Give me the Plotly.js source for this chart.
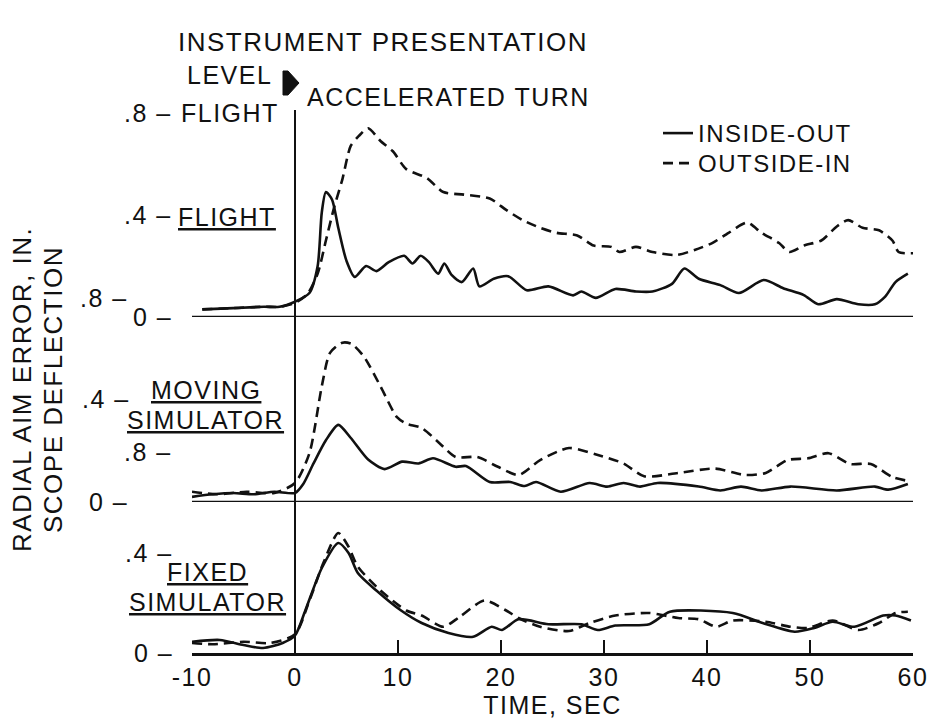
<!DOCTYPE html>
<html><head><meta charset="utf-8">
<script src="https://cdn.plot.ly/plotly-3.0.1.min.js"></script>
<style>
html,body{margin:0;padding:0;background:#fff;}
#chart{width:933px;height:728px;}
svg text{letter-spacing:1.5px;}
</style></head><body><div id="chart"></div>
<script>
// ---------------- DATA ----------------
const seriesNames = ['INSIDE-OUT', 'OUTSIDE-IN'];
const panelNames = ['FLIGHT', 'MOVING SIMULATOR', 'FIXED SIMULATOR'];

// Flight panel
const flightInsideT = [-9,-6,-3,-1.5,0,1.4,2.2,2.6,3.0,3.6,4.2,5.0,5.8,6.9,7.9,9.1,10.6,11.4,12.2,13.0,13.9,14.5,15.2,16.2,17.3,17.9,19.3,20.7,22.5,24.6,27.0,27.8,29.2,31.1,33.1,34.7,36.6,37.8,39.2,41.3,43.1,45.5,47.4,49.4,50.8,52.6,54.7,56.3,57.3,58.3,59.5];
const flightInsideV = [0.03,0.035,0.04,0.04,0.06,0.094,0.2,0.41,0.49,0.46,0.35,0.22,0.157,0.2,0.18,0.215,0.24,0.21,0.24,0.215,0.17,0.21,0.165,0.137,0.19,0.12,0.15,0.16,0.105,0.12,0.085,0.1,0.075,0.11,0.1,0.1,0.13,0.19,0.15,0.125,0.094,0.145,0.113,0.086,0.05,0.07,0.05,0.05,0.08,0.137,0.17];
const flightOutsideT = [-9,-6,-3,-1.5,0,1.2,2.2,3.0,3.8,4.6,5.4,6.2,7.1,8.3,9.5,10.8,12.8,14.4,16.4,18.9,20.5,22.1,23.8,25.4,27.4,29.0,30.7,31.5,33.1,34.7,37.0,38.8,40.5,42.1,43.9,45.3,47.0,48.0,49.4,51.1,52.6,53.7,55.1,56.7,58.0,58.6,60];
const flightOutsideV = [0.03,0.035,0.04,0.04,0.055,0.09,0.17,0.3,0.43,0.54,0.67,0.71,0.74,0.69,0.65,0.58,0.545,0.49,0.48,0.465,0.42,0.38,0.35,0.33,0.32,0.28,0.275,0.255,0.275,0.255,0.243,0.263,0.29,0.33,0.37,0.33,0.29,0.255,0.28,0.30,0.355,0.38,0.35,0.34,0.30,0.255,0.25];

// Moving simulator panel
const movingInsideT = [-10,-8,-6,-4,-2,0,0.8,1.8,3.0,4.2,5.4,7.1,8.7,10.4,12.0,13.4,15.6,16.6,18.9,20.9,22.3,23.4,25.8,28.6,30.3,31.9,33.5,35.2,39.2,41.3,43.3,45.3,48.1,52.6,56.3,57.6,59.5];
const movingInsideV = [0.02,0.03,0.035,0.03,0.04,0.035,0.07,0.15,0.24,0.30,0.25,0.165,0.128,0.157,0.15,0.17,0.137,0.14,0.078,0.078,0.062,0.078,0.04,0.074,0.06,0.074,0.06,0.074,0.06,0.045,0.06,0.045,0.06,0.045,0.06,0.048,0.07];
const movingOutsideT = [-10,-7.6,-4.7,-2,0,1.4,2.6,3.4,4.6,5.5,6.7,8.3,9.9,10.8,12.3,14.0,15.6,17.7,19.7,21.7,23.8,26.6,29.4,31.9,33.9,37.2,40.8,43.7,45.7,47.8,49.8,51.8,53.9,55.9,58.0,59.5];
const movingOutsideV = [0.04,0.03,0.04,0.035,0.074,0.19,0.45,0.58,0.62,0.615,0.565,0.45,0.33,0.305,0.288,0.23,0.175,0.175,0.137,0.105,0.163,0.21,0.183,0.15,0.1,0.113,0.13,0.105,0.113,0.163,0.17,0.19,0.148,0.148,0.097,0.082];

// Fixed simulator panel
const fixedInsideT = [-10,-7.3,-5,-3.1,-1.2,0,1.0,2.6,4.2,5.2,6.1,7.9,10.3,12.3,14.9,17.3,19.1,20.1,21.7,24.6,27.8,29.4,31.1,34.4,36.4,42.5,45.4,48.5,50.4,52.2,54.3,57.1,58.3,59.8];
const fixedInsideV = [0.045,0.052,0.032,0.02,0.04,0.07,0.17,0.34,0.44,0.40,0.32,0.25,0.17,0.12,0.08,0.065,0.105,0.092,0.135,0.115,0.115,0.092,0.11,0.115,0.165,0.16,0.12,0.085,0.1,0.125,0.105,0.15,0.15,0.13];
const fixedOutsideT = [-10,-8,-5,-2.4,0,1.4,2.8,4.2,5.2,6.1,8.3,10.8,12.3,14.4,16.0,18.4,20.5,21.7,23.8,26.6,28.6,31.1,34.4,37.2,39.2,40.9,42.5,45.7,48.1,49.8,52.2,54.7,56.7,58.3,59.5];
const fixedOutsideV = [0.04,0.035,0.045,0.04,0.075,0.21,0.365,0.48,0.425,0.345,0.25,0.17,0.15,0.105,0.145,0.21,0.17,0.14,0.105,0.088,0.12,0.15,0.16,0.14,0.135,0.105,0.13,0.125,0.105,0.1,0.13,0.092,0.12,0.16,0.165];

// Tick labels
const xTickVals = [-10,0,10,20,30,40,50,60];
const xTickText = ['-10','0','10','20','30','40','50','60'];
const flightTickVals = [0.8, 0.4, 0.0745, 0];
const flightTickText = ['.8 –', '.4 –', '.8 –', '0 –'];
const movingTickVals = [0.4, 0.195, 0];
const movingTickText = ['.4 –', '.8 –', '0 –'];
const fixedTickVals = [0.4, 0];
const fixedTickText = ['.4 –', '0 –'];

// ---------------- LAYOUT HELPERS ----------------
const W = 933, H = 728, L = 192, R = 20, T = 110, B = 75;
const PW = W - L - R, PH = H - T - B;
const px = x => (x - L) / PW;
const py = y => (H - B - y) / PH;
const FONT = '"Liberation Sans", Arial, sans-serif';
const BLACK = '#111';
const dashPat = '10px,6px';

function trace(x, y, yaxis, dashed, name, show) {
  return {
    x: x, y: y, xaxis: 'x', yaxis: yaxis, type: 'scatter', mode: 'lines',
    name: name, legendgroup: name, showlegend: show, legend: dashed ? 'legend2' : 'legend',
    line: {color: BLACK, width: 2.6, dash: dashed ? dashPat : 'solid', shape: 'spline', smoothing: 0.7},
    hoverinfo: 'skip'
  };
}

const data = [
  trace(flightInsideT, flightInsideV, 'y3', false, seriesNames[0], true),
  trace(flightOutsideT, flightOutsideV, 'y3', true, seriesNames[1], true),
  trace(movingInsideT, movingInsideV, 'y2', false, seriesNames[0], false),
  trace(movingOutsideT, movingOutsideV, 'y2', true, seriesNames[1], false),
  trace(fixedInsideT, fixedInsideV, 'y', false, seriesNames[0], false),
  trace(fixedOutsideT, fixedOutsideV, 'y', true, seriesNames[1], false)
];

const annotations = [];
function ann(o) {
  annotations.push(Object.assign({showarrow: false, font: {family: FONT, size: 25, color: BLACK}, borderpad: 0}, o));
}
function tickLabels(vals, texts, yref, rights) {
  vals.forEach((v, i) => ann({text: texts[i], xref: 'paper', x: px(rights[i]), xanchor: 'right', yref: yref, y: v, yanchor: 'middle'}));
}
tickLabels(flightTickVals, flightTickText, 'y3', [173, 173, 129, 173]);
tickLabels(movingTickVals, movingTickText, 'y2', [131, 173, 129]);
tickLabels(fixedTickVals, fixedTickText, 'y', [174, 174]);

function label(text, xc, yc, anchor, underline) {
  const f = {family: FONT, size: 25, color: BLACK};
  if (underline) f.lineposition = 'under';
  ann({text: text, xref: 'paper', yref: 'paper', x: px(xc), y: py(yc), xanchor: anchor, yanchor: 'middle', font: f});
}
// panel labels
label('LEVEL', 186, 75, 'left', false);
label('FLIGHT', 180, 113, 'left', false);
label('ACCELERATED TURN', 306, 97, 'left', false);
label(panelNames[0], 177, 217, 'left', true);
const mv = panelNames[1].split(' '), fx = panelNames[2].split(' ');
label(mv[0], 206, 390, 'center', true);
label(mv[1], 205, 420, 'center', true);
label(fx[0], 207, 572, 'center', true);
label(fx[1], 207, 602, 'center', true);

// y-axis titles (two lines)
ann({text: 'RADIAL AIM ERROR, IN.', xref: 'paper', yref: 'paper', x: px(22), y: py(390), xanchor: 'center', yanchor: 'middle', textangle: -90, font: {family: FONT, size: 26, color: BLACK}});
ann({text: 'SCOPE DEFLECTION', xref: 'paper', yref: 'paper', x: px(53), y: py(390), xanchor: 'center', yanchor: 'middle', textangle: -90, font: {family: FONT, size: 26, color: BLACK}});

const shapes = [
  // baselines of upper two panels
  {type: 'line', xref: 'x', yref: 'y2', x0: -10, x1: 60, y0: 0, y1: 0, line: {color: BLACK, width: 2.6}},
  {type: 'line', xref: 'x', yref: 'y3', x0: -10, x1: 60, y0: 0, y1: 0, line: {color: BLACK, width: 2.6}},
  // start of accelerated turn
  {type: 'line', xref: 'x', yref: 'paper', x0: 0, x1: 0, y0: 0, y1: 1, line: {color: BLACK, width: 2}},
  // arrow marker next to LEVEL
  {type: 'path', xref: 'paper', yref: 'paper', fillcolor: BLACK, line: {color: BLACK, width: 1},
   path: `M${px(283)},${py(71)} L${px(288)},${py(71)} L${px(299)},${py(83)} L${px(288)},${py(95)} L${px(283)},${py(95)} Z`}
];

const legendBase = {xanchor: 'left', yanchor: 'top', font: {family: FONT, size: 24, color: BLACK}, bgcolor: 'rgba(0,0,0,0)', borderwidth: 0, tracegroupgap: 0};

const layout = {
  width: W, height: H,
  margin: {l: L, r: R, t: T, b: B, pad: 0},
  paper_bgcolor: '#fff', plot_bgcolor: '#fff',
  font: {family: FONT, size: 25, color: BLACK},
  title: {text: 'INSTRUMENT PRESENTATION', xref: 'container', yref: 'container', x: 178 / W, xanchor: 'left', y: 1 - 42 / H, yanchor: 'middle', font: {family: FONT, size: 26, color: BLACK}},
  showlegend: true,
  legend: Object.assign({x: px(658), y: py(111)}, legendBase),
  legend2: Object.assign({x: px(658), y: py(141)}, legendBase),
  xaxis: {
    domain: [0, 1], range: [-10, 60], anchor: 'y',
    tickvals: xTickVals, ticktext: xTickText, ticks: 'inside', ticklen: 13, tickwidth: 2, tickcolor: BLACK,
    showline: true, linewidth: 2.6, linecolor: BLACK, zeroline: false, showgrid: false,
    tickfont: {family: FONT, size: 25, color: BLACK},
    title: {text: 'TIME, SEC', font: {family: FONT, size: 25, color: BLACK}, standoff: 6}
  },
  yaxis: {domain: [0, 151 / PH], range: [0, 0.604], anchor: 'x', showticklabels: false, ticks: '', showline: false, zeroline: false, showgrid: false},
  yaxis2: {domain: [151 / PH, 336 / PH], range: [0, 0.7198], anchor: 'x', showticklabels: false, ticks: '', showline: false, zeroline: false, showgrid: false},
  yaxis3: {domain: [336 / PH, 1], range: [0, 0.8118], anchor: 'x', showticklabels: false, ticks: '', showline: false, zeroline: false, showgrid: false},
  annotations: annotations,
  shapes: shapes
};

Plotly.newPlot('chart', data, layout, {displayModeBar: false, staticPlot: true});
</script></body></html>
